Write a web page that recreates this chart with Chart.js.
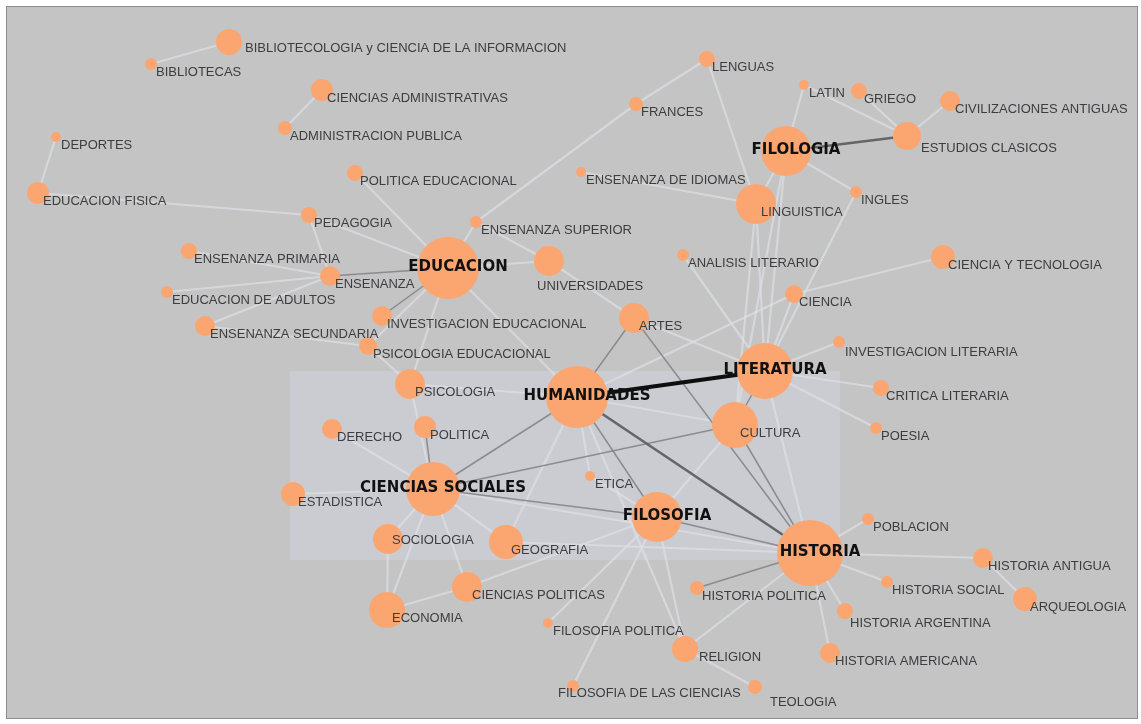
<!DOCTYPE html>
<html>
<head>
<meta charset="utf-8">
<title>Red de temas</title>
<script src="https://cdn.jsdelivr.net/npm/chart.js@4.4.1/dist/chart.umd.min.js"></script>
<style>
  html, body { margin: 0; padding: 0; background: #ffffff; }
  #wrap { width: 1141px; height: 724px; }
</style>
</head>
<body>
<div id="wrap"><canvas id="graph" width="1141" height="724"></canvas></div>
<script>
const nodeNames = [
  'BIBLIOTECOLOGIA y CIENCIA DE LA INFORMACION', 'BIBLIOTECAS', 'CIENCIAS ADMINISTRATIVAS',
  'ADMINISTRACION PUBLICA', 'DEPORTES', 'EDUCACION FISICA', 'POLITICA EDUCACIONAL', 'PEDAGOGIA',
  'ENSENANZA SUPERIOR', 'ENSENANZA PRIMARIA', 'EDUCACION', 'UNIVERSIDADES', 'ENSENANZA',
  'EDUCACION DE ADULTOS', 'INVESTIGACION EDUCACIONAL', 'ENSENANZA SECUNDARIA',
  'PSICOLOGIA EDUCACIONAL', 'PSICOLOGIA', 'HUMANIDADES', 'DERECHO', 'POLITICA',
  'CIENCIAS SOCIALES', 'ESTADISTICA', 'ETICA', 'FILOSOFIA', 'SOCIOLOGIA', 'GEOGRAFIA',
  'CIENCIAS POLITICAS', 'ECONOMIA', 'FILOSOFIA POLITICA', 'RELIGION',
  'FILOSOFIA DE LAS CIENCIAS', 'TEOLOGIA', 'HISTORIA POLITICA', 'HISTORIA', 'POBLACION',
  'HISTORIA ANTIGUA', 'HISTORIA SOCIAL', 'ARQUEOLOGIA', 'HISTORIA ARGENTINA',
  'HISTORIA AMERICANA', 'CULTURA', 'LITERATURA', 'ARTES', 'CRITICA LITERARIA', 'POESIA',
  'INVESTIGACION LITERARIA', 'CIENCIA', 'CIENCIA Y TECNOLOGIA', 'ANALISIS LITERARIO',
  'LINGUISTICA', 'INGLES', 'ENSENANZA DE IDIOMAS', 'FILOLOGIA', 'ESTUDIOS CLASICOS',
  'CIVILIZACIONES ANTIGUAS', 'GRIEGO', 'LATIN', 'FRANCES', 'LENGUAS'
];
const nodeX = [
  229, 151, 322, 285, 56, 38, 355, 309, 476, 189, 448, 549, 330, 167, 382, 205, 368, 410,
  577, 332, 425, 433, 293, 590, 657, 388, 506, 467, 387, 548, 685, 573, 755, 697, 810, 868,
  983, 887, 1025, 845, 830, 735, 765, 634, 881, 876, 839, 794, 943, 683, 756, 856, 581, 786,
  907, 950, 859, 804, 636, 707
];
const nodeY = [
  42, 64, 90, 128, 137, 193, 173, 215, 222, 251, 268, 261, 276, 292, 316, 326, 346, 384,
  397, 429, 427, 489, 494, 476, 517, 539, 542, 587, 610, 623, 649, 686, 687, 588, 553, 519,
  558, 582, 599, 611, 653, 425, 371, 318, 388, 428, 342, 294, 257, 255, 204, 192, 172, 151,
  136, 101, 91, 85, 104, 59
];
const nodeWeight = [
  13, 6, 11, 7, 5, 11, 8, 8, 6, 8, 31, 15, 10, 6, 10, 10, 9, 15,
  31, 10, 11, 27, 12, 5, 25, 15, 17, 15, 18, 5, 13, 6, 7, 7, 33, 6,
  10, 6, 12, 8, 10, 23, 28, 15, 8, 6, 6, 9, 12, 6, 20, 6, 5, 25,
  14, 10, 8, 5, 7, 8
];
const hubs = ['EDUCACION', 'HUMANIDADES', 'LITERATURA', 'FILOLOGIA', 'CIENCIAS SOCIALES', 'FILOSOFIA', 'HISTORIA'];

// Edges: [from, to, strength 1..4]
const edges = [
  ['HUMANIDADES', 'LITERATURA', 4],
  ['FILOLOGIA', 'ESTUDIOS CLASICOS', 3],
  ['HUMANIDADES', 'HISTORIA', 3],
  ['HUMANIDADES', 'FILOSOFIA', 2],
  ['HUMANIDADES', 'CIENCIAS SOCIALES', 2],
  ['CIENCIAS SOCIALES', 'FILOSOFIA', 2],
  ['CIENCIAS SOCIALES', 'CULTURA', 2],
  ['FILOSOFIA', 'HISTORIA', 2],
  ['HISTORIA', 'HISTORIA POLITICA', 2],
  ['EDUCACION', 'ENSENANZA', 2],
  ['EDUCACION', 'INVESTIGACION EDUCACIONAL', 2],
  ['HUMANIDADES', 'ARTES', 2],
  ['CULTURA', 'LITERATURA', 2],
  ['POLITICA', 'CIENCIAS SOCIALES', 2],
  ['CULTURA', 'HISTORIA', 2],
  ['ARTES', 'HISTORIA', 2],
  ['BIBLIOTECAS', 'BIBLIOTECOLOGIA y CIENCIA DE LA INFORMACION', 1],
  ['CIENCIAS ADMINISTRATIVAS', 'ADMINISTRACION PUBLICA', 1],
  ['DEPORTES', 'EDUCACION FISICA', 1],
  ['EDUCACION FISICA', 'PEDAGOGIA', 1],
  ['POLITICA EDUCACIONAL', 'EDUCACION', 1],
  ['PEDAGOGIA', 'EDUCACION', 1],
  ['PEDAGOGIA', 'ENSENANZA', 1],
  ['ENSENANZA SUPERIOR', 'EDUCACION', 1],
  ['ENSENANZA SUPERIOR', 'UNIVERSIDADES', 1],
  ['ENSENANZA PRIMARIA', 'ENSENANZA', 1],
  ['EDUCACION DE ADULTOS', 'ENSENANZA', 1],
  ['ENSENANZA SECUNDARIA', 'ENSENANZA', 1],
  ['ENSENANZA SECUNDARIA', 'PSICOLOGIA EDUCACIONAL', 1],
  ['PSICOLOGIA EDUCACIONAL', 'EDUCACION', 1],
  ['PSICOLOGIA EDUCACIONAL', 'PSICOLOGIA', 1],
  ['UNIVERSIDADES', 'EDUCACION', 1],
  ['UNIVERSIDADES', 'ARTES', 1],
  ['EDUCACION', 'HUMANIDADES', 1],
  ['EDUCACION', 'PSICOLOGIA', 1],
  ['FRANCES', 'LENGUAS', 1],
  ['FRANCES', 'ENSENANZA SUPERIOR', 1],
  ['LENGUAS', 'LINGUISTICA', 1],
  ['ENSENANZA DE IDIOMAS', 'LINGUISTICA', 1],
  ['FILOLOGIA', 'LINGUISTICA', 1],
  ['FILOLOGIA', 'LATIN', 1],
  ['FILOLOGIA', 'INGLES', 1],
  ['LATIN', 'ESTUDIOS CLASICOS', 1],
  ['GRIEGO', 'ESTUDIOS CLASICOS', 1],
  ['CIVILIZACIONES ANTIGUAS', 'ESTUDIOS CLASICOS', 1],
  ['FILOLOGIA', 'LITERATURA', 1],
  ['LINGUISTICA', 'LITERATURA', 1],
  ['LINGUISTICA', 'CULTURA', 1],
  ['FILOLOGIA', 'CULTURA', 1],
  ['INGLES', 'LITERATURA', 1],
  ['ANALISIS LITERARIO', 'LITERATURA', 1],
  ['CIENCIA', 'CIENCIA Y TECNOLOGIA', 1],
  ['CIENCIA', 'HUMANIDADES', 1],
  ['CIENCIA', 'LITERATURA', 1],
  ['INVESTIGACION LITERARIA', 'LITERATURA', 1],
  ['CRITICA LITERARIA', 'LITERATURA', 1],
  ['POESIA', 'LITERATURA', 1],
  ['ARTES', 'LITERATURA', 1],
  ['LITERATURA', 'HISTORIA', 1],
  ['HUMANIDADES', 'CULTURA', 1],
  ['CULTURA', 'FILOSOFIA', 1],
  ['HUMANIDADES', 'PSICOLOGIA', 1],
  ['HUMANIDADES', 'GEOGRAFIA', 1],
  ['HUMANIDADES', 'ETICA', 1],
  ['ETICA', 'FILOSOFIA', 1],
  ['HUMANIDADES', 'RELIGION', 1],
  ['FILOSOFIA', 'RELIGION', 1],
  ['FILOSOFIA', 'FILOSOFIA DE LAS CIENCIAS', 1],
  ['FILOSOFIA', 'FILOSOFIA POLITICA', 1],
  ['RELIGION', 'TEOLOGIA', 1],
  ['RELIGION', 'HISTORIA', 1],
  ['POBLACION', 'HISTORIA', 1],
  ['HISTORIA ANTIGUA', 'HISTORIA', 1],
  ['HISTORIA SOCIAL', 'HISTORIA', 1],
  ['HISTORIA ARGENTINA', 'HISTORIA', 1],
  ['HISTORIA AMERICANA', 'HISTORIA', 1],
  ['ARQUEOLOGIA', 'HISTORIA ANTIGUA', 1],
  ['GEOGRAFIA', 'HISTORIA', 1],
  ['GEOGRAFIA', 'CIENCIAS SOCIALES', 1],
  ['SOCIOLOGIA', 'CIENCIAS SOCIALES', 1],
  ['ECONOMIA', 'CIENCIAS SOCIALES', 1],
  ['ECONOMIA', 'CIENCIAS POLITICAS', 1],
  ['CIENCIAS POLITICAS', 'CIENCIAS SOCIALES', 1],
  ['ESTADISTICA', 'CIENCIAS SOCIALES', 1],
  ['DERECHO', 'CIENCIAS SOCIALES', 1],
  ['PSICOLOGIA', 'CIENCIAS SOCIALES', 1],
  ['CIENCIAS SOCIALES', 'HISTORIA', 1],
  ['CIENCIAS POLITICAS', 'FILOSOFIA', 1],
  ['SOCIOLOGIA', 'ECONOMIA', 1]
];

// Label tweaks where the label does not sit at the usual lower right of its node
const labelNudge = {
  'BIBLIOTECOLOGIA y CIENCIA DE LA INFORMACION': [16, 6],
  'UNIVERSIDADES': [-12, 25],
  'ESTUDIOS CLASICOS': [14, 12],
  'RELIGION': [14, 8],
  'TEOLOGIA': [15, 15],
  'FILOSOFIA DE LAS CIENCIAS': [-15, 7],
  'SOCIOLOGIA': [4, 1],
  'HISTORIA ARGENTINA': [5, 12],
  'INVESTIGACION LITERARIA': [6, 10]
};

const edgeStyle = {
  1: { color: 'rgba(222,223,231,0.7)', width: 2.2, order: 4 },
  2: { color: 'rgba(128,128,135,0.85)', width: 1.5, order: 3 },
  3: { color: 'rgba(95,95,100,0.95)', width: 2.6, order: 2 },
  4: { color: '#0e0e0e', width: 4, order: 1 }
};

const idx = name => nodeNames.indexOf(name);

const edgeDatasets = edges.map(([a, b, w]) => ({
  type: 'line',
  data: [
    { x: nodeX[idx(a)], y: nodeY[idx(a)] },
    { x: nodeX[idx(b)], y: nodeY[idx(b)] }
  ],
  borderColor: edgeStyle[w].color,
  borderWidth: edgeStyle[w].width,
  pointRadius: 0,
  fill: false,
  tension: 0,
  order: edgeStyle[w].order
}));

const nodeDataset = {
  type: 'bubble',
  data: nodeNames.map((n, i) => ({ x: nodeX[i], y: nodeY[i], r: nodeWeight[i] })),
  backgroundColor: 'rgb(251,166,113)',
  borderWidth: 0,
  hoverRadius: 0,
  order: 0
};

// Frame and the lighter panel behind the central cluster
const frameBox = { x0: 6, y0: 6, x1: 1137, y1: 718 };
const panelBox = { x0: 290, y0: 371, x1: 840, y1: 560 };

const backgroundPlugin = {
  id: 'background',
  beforeDraw(chart) {
    const { ctx, scales: { x, y } } = chart;
    ctx.save();
    ctx.fillStyle = '#ffffff';
    ctx.fillRect(0, 0, chart.width, chart.height);
    const fx0 = x.getPixelForValue(frameBox.x0), fx1 = x.getPixelForValue(frameBox.x1);
    const fy0 = y.getPixelForValue(frameBox.y0), fy1 = y.getPixelForValue(frameBox.y1);
    ctx.fillStyle = '#c4c4c4';
    ctx.fillRect(fx0, fy0, fx1 - fx0, fy1 - fy0);
    ctx.strokeStyle = '#8d8d8d';
    ctx.lineWidth = 1;
    ctx.strokeRect(fx0 + 0.5, fy0 + 0.5, fx1 - fx0, fy1 - fy0);
    const px0 = x.getPixelForValue(panelBox.x0), px1 = x.getPixelForValue(panelBox.x1);
    const py0 = y.getPixelForValue(panelBox.y0), py1 = y.getPixelForValue(panelBox.y1);
    ctx.fillStyle = '#caccd1';
    ctx.fillRect(px0, py0, px1 - px0, py1 - py0);
    ctx.restore();
  }
};

const labelPlugin = {
  id: 'nodeLabels',
  afterDatasetsDraw(chart) {
    const { ctx, scales: { x, y } } = chart;
    ctx.save();
    ctx.textBaseline = 'middle';
    nodeNames.forEach((name, i) => {
      const px = x.getPixelForValue(nodeX[i]);
      const py = y.getPixelForValue(nodeY[i]);
      if (hubs.includes(name)) {
        ctx.font = 'bold 15px "DejaVu Sans", sans-serif';
        ctx.fillStyle = '#111111';
        ctx.textAlign = 'center';
        ctx.fillText(name, px + 10, py - 1);
      } else {
        const [dx, dy] = labelNudge[name] || [5, 8];
        ctx.font = '13px "Liberation Sans", Arial, sans-serif';
        ctx.fillStyle = '#3d3d40';
        ctx.textAlign = 'left';
        ctx.fillText(name, px + dx, py + dy);
      }
    });
    ctx.restore();
  }
};

new Chart(document.getElementById('graph').getContext('2d'), {
  type: 'bubble',
  data: { datasets: [...edgeDatasets, nodeDataset] },
  options: {
    responsive: false,
    animation: false,
    events: [],
    layout: { padding: 0, autoPadding: false },
    clip: false,
    scales: {
      x: { type: 'linear', min: 0, max: 1141, display: false },
      y: { type: 'linear', min: 0, max: 724, reverse: true, display: false }
    },
    plugins: {
      legend: { display: false },
      tooltip: { enabled: false }
    }
  },
  plugins: [backgroundPlugin, labelPlugin]
});
</script>
</body>
</html>
